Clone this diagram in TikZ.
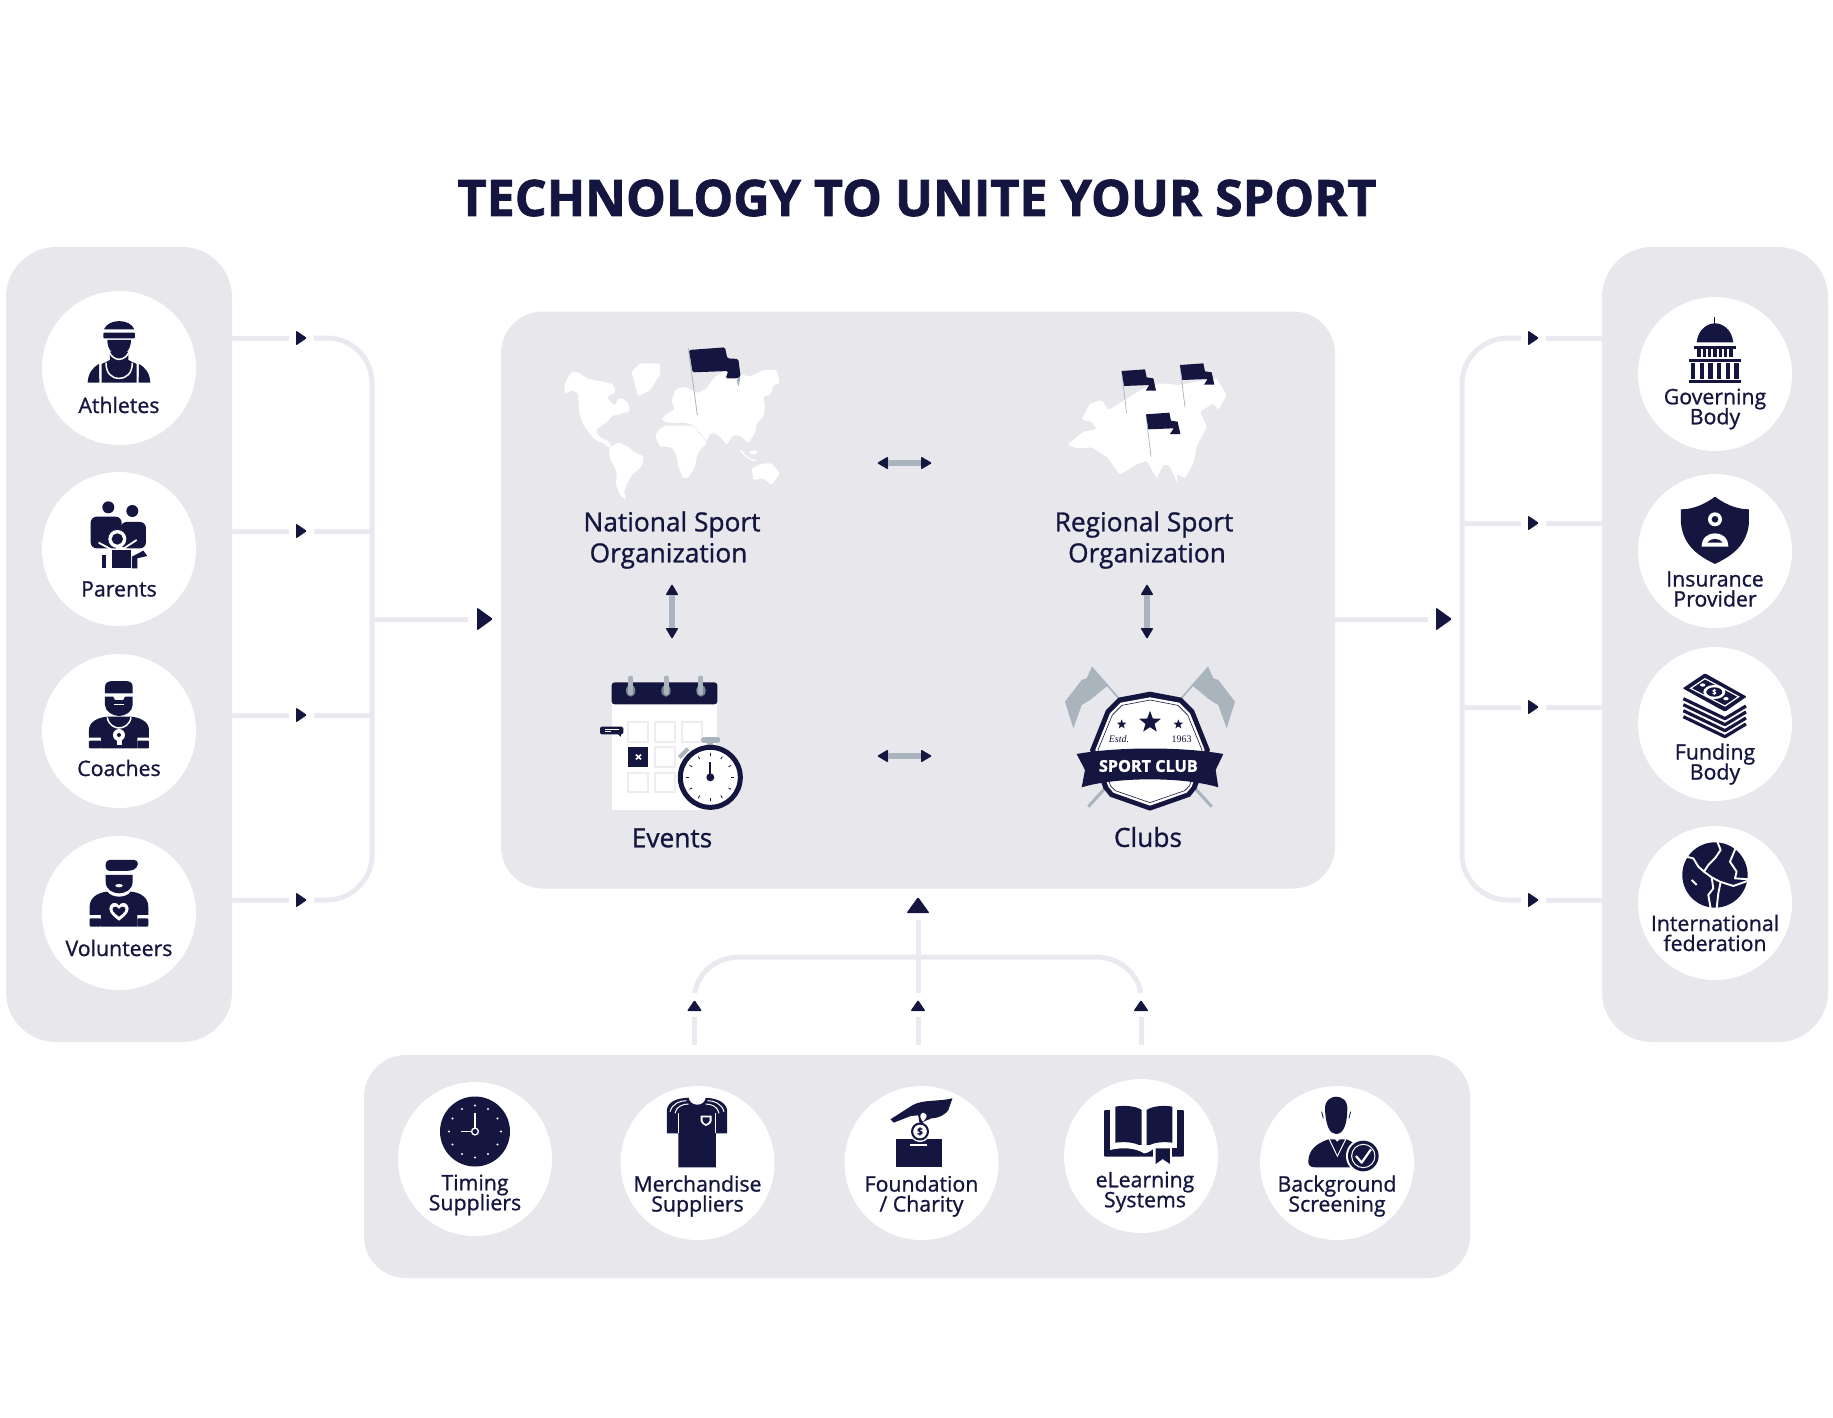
\documentclass[tikz,border=0pt]{standalone}
\usepackage{fontspec}
\setmainfont{Open Sans}[BoldFeatures={FakeBold=1.6}]
\newfontfamily\medfont{Open Sans}[FakeBold=1.0]
\newfontfamily\estdfont{Liberation Serif}[Ligatures=TeX]
\usetikzlibrary{shapes.geometric}
\definecolor{sportnavy}{HTML}{14163F}
\definecolor{panelgray}{HTML}{E7E7EC}
\definecolor{linkgray}{HTML}{E9E9EF}
\definecolor{shaftgray}{HTML}{A9B4BC}
\definecolor{cellgray}{HTML}{EDEDF1}
\newcommand{\tightlines}{\lineskiplimit=-100pt\relax}
\tikzset{
  panel/.style={rectangle, fill=panelgray, inner sep=0pt},
  disc/.style={circle, fill=white, minimum size=154pt, inner sep=0pt},
  lab/.style={text=sportnavy, align=center, inner sep=0pt, font={\medfont\fontsize{21.3}{20}\selectfont\tightlines}},
  biglab/.style={text=sportnavy, align=center, inner sep=0pt, font={\medfont\fontsize{26.3}{31}\selectfont\tightlines}},
  link/.style={draw=linkgray, line width=5pt},
  shaft/.style={draw=shaftgray, line width=6pt},
  tip/.style={isosceles triangle, isosceles triangle stretches, fill=sportnavy, inner sep=0pt, outer sep=0pt, rounded corners=1pt, anchor=lower side},
  tipsmall/.style={tip, minimum width=15pt, minimum height=11pt},
  tipbig/.style={tip, minimum width=23pt, minimum height=16pt},
  tipinner/.style={tip, minimum width=13pt, minimum height=11pt},
  zoomed/.style={scale=0.3333},
  zoomedb/.style={xscale=0.408, yscale=0.3333},
}
\begin{document}
\begin{tikzpicture}[x=1pt, y=-1pt]
  \useasboundingbox (0,0) rectangle (1833,1417);

  % Panels
  \node[panel, rounded corners=50pt, minimum width=226pt, minimum height=795pt] (leftpanel) at (119,644.5) {};
  \node[panel, rounded corners=50pt, minimum width=226pt, minimum height=795pt] (rightpanel) at (1715,644.5) {};
  \node[panel, rounded corners=42pt, minimum width=834pt, minimum height=577pt] (centerpanel) at (918,600) {};
  \node[panel, rounded corners=42pt, minimum width=1106pt, minimum height=223pt] (bottompanel) at (917,1166.5) {};

  \node[text=sportnavy, font=\fontsize{50.2}{50}\selectfont\bfseries, inner sep=0pt] (title) at (917,198) {TECHNOLOGY TO UNITE YOUR SPORT};

  % Discs
  \node[disc] (athletes) at (119,368) {};
  \node[disc] (parents) at (119,549) {};
  \node[disc] (coaches) at (119,731) {};
  \node[disc] (volunteers) at (119,913) {};
  \node[disc] (governing) at (1715,374) {};
  \node[disc] (insurance) at (1715,551) {};
  \node[disc] (funding) at (1715,724) {};
  \node[disc] (international) at (1715,903) {};
  \node[disc] (timing) at (475,1159) {};
  \node[disc] (merchandise) at (697.5,1163) {};
  \node[disc] (foundation) at (921.5,1163) {};
  \node[disc] (elearning) at (1141,1156) {};
  \node[disc] (background) at (1337,1163) {};

  % Labels
  \node[lab] (athleteslab) at (119,405) {Athletes};
  \node[lab] (parentslab) at (119,589) {Parents};
  \node[lab] (coacheslab) at (119,768) {Coaches};
  \node[lab] (volunteerslab) at (119,948) {Volunteers};
  \node[lab] (governinglab) at (1715,409) {Governing\\Body};
  \node[lab] (insurancelab) at (1715,589) {Insurance\\Provider};
  \node[lab] (fundinglab) at (1715,764) {Funding\\Body};
  \node[lab] (internationallab) at (1715,933) {International\\federation};
  \node[lab] (timinglab) at (475,1195) {Timing\\Suppliers};
  \node[lab] (merchandiselab) at (697.5,1196) {Merchandise\\Suppliers};
  \node[lab] (foundationlab) at (921.5,1196) {Foundation\\/ Charity};
  \node[lab] (elearninglab) at (1145,1192) {eLearning\\Systems};
  \node[lab] (backgroundlab) at (1337,1196) {Background\\Screening};
  \node[biglab] (nationallab) at (672,540) {National Sport\\\hspace*{-7pt}Organization};
  \node[biglab] (regionallab) at (1144,540) {Regional Sport\\\hspace*{6pt}Organization};
  \node[biglab] (eventslab) at (672,838) {Events};
  \node[biglab] (clubslab) at (1148,837) {Clubs};

  % Arrow tips
  \node[tipsmall] (tipa) at (296,338) {};
  \node[tipsmall] (tipb) at (296,531) {};
  \node[tipsmall] (tipc) at (296,715) {};
  \node[tipsmall] (tipd) at (296,900) {};
  \node[tipbig] (tipwest) at (477,619) {};
  \node[tipsmall] (tipe) at (1528,338) {};
  \node[tipsmall] (tipf) at (1528,523) {};
  \node[tipsmall] (tipg) at (1528,707) {};
  \node[tipsmall] (tiph) at (1528,900) {};
  \node[tipbig] (tipeast) at (1436,619) {};
  \node[tipsmall, rotate=90] (tipi) at (694.5,1011) {};
  \node[tipsmall, rotate=90] (tipj) at (918,1011) {};
  \node[tipsmall, rotate=90] (tipk) at (1141,1011) {};
  \node[tipbig, rotate=90] (tipnorth) at (918,913) {};
  \coordinate (trunkw) at (372,619);
  \coordinate (trunke) at (1462,619);
  \coordinate (barleft) at (740,957);
  \coordinate (barright) at (1095,957);

  % Connectors
  \draw[link] (leftpanel.east |- tipa.lower side) -- ([xshift=-7pt]tipa.lower side);
  \draw[link] (leftpanel.east |- tipb.lower side) -- ([xshift=-7pt]tipb.lower side);
  \draw[link] (leftpanel.east |- tipc.lower side) -- ([xshift=-7pt]tipc.lower side);
  \draw[link] (leftpanel.east |- tipd.lower side) -- ([xshift=-7pt]tipd.lower side);
  \draw[link, rounded corners=45pt] ([xshift=7pt]tipa.apex) -| (trunkw) |- ([xshift=7pt]tipd.apex);
  \draw[link] ([xshift=7pt]tipb.apex) -- (tipb.apex -| trunkw);
  \draw[link] ([xshift=7pt]tipc.apex) -- (tipc.apex -| trunkw);
  \draw[link] (trunkw) -- ([xshift=-9pt]tipwest.lower side);
  \draw[link] (rightpanel.west |- tipe.apex) -- ([xshift=7pt]tipe.apex);
  \draw[link] (rightpanel.west |- tipf.apex) -- ([xshift=7pt]tipf.apex);
  \draw[link] (rightpanel.west |- tipg.apex) -- ([xshift=7pt]tipg.apex);
  \draw[link] (rightpanel.west |- tiph.apex) -- ([xshift=7pt]tiph.apex);
  \draw[link, rounded corners=46pt] ([xshift=-7pt]tipe.lower side) -| (trunke) |- ([xshift=-7pt]tiph.lower side);
  \draw[link] ([xshift=-7pt]tipf.lower side) -- (tipf.lower side -| trunke);
  \draw[link] ([xshift=-7pt]tipg.lower side) -- (tipg.lower side -| trunke);
  \draw[link] (centerpanel.east |- tipeast.lower side) -- ([xshift=-8pt]tipeast.lower side);
  \draw[link] ([yshift=10pt]bottompanel.north -| tipi.lower side) -- ([yshift=-6pt]tipi.lower side);
  \draw[link] ([yshift=10pt]bottompanel.north -| tipj.lower side) -- ([yshift=-6pt]tipj.lower side);
  \draw[link] ([yshift=10pt]bottompanel.north -| tipk.lower side) -- ([yshift=-6pt]tipk.lower side);
  \draw[link] ([yshift=7pt]tipj.apex) -- ([yshift=-7pt]tipnorth.lower side);
  \draw[link] ([yshift=7pt]tipi.apex) .. controls +(4,-20) and +(-25,0) .. (barleft) -- (barright) .. controls +(25,0) and +(-4,-20) .. ([yshift=7pt]tipk.apex);

  \node[tipinner, rotate=180] (tipm) at (888,463) {};
  \node[tipinner] (tipn) at (921,463) {};
  \node[tipinner, rotate=180] (tipo) at (888,756) {};
  \node[tipinner] (tipp) at (921,756) {};
  \node[tipinner, rotate=90] (tipq) at (672,595) {};
  \node[tipinner, rotate=-90] (tipr) at (672,628) {};
  \node[tipinner, rotate=90] (tips) at (1147,595) {};
  \node[tipinner, rotate=-90] (tipt) at (1147,628) {};
  \draw[shaft] (tipm.lower side) -- (tipn.lower side);
  \draw[shaft] (tipo.lower side) -- (tipp.lower side);
  \draw[shaft] (tipq.lower side) -- (tipr.lower side);
  \draw[shaft] (tips.lower side) -- (tipt.lower side);

  % Athlete
  \begin{scope}[shift={(0,240)}, zoomed, sportnavy]
    \fill (312,268) .. controls (325,235) and (390,235) .. (403,268) -- cycle;
    \fill[rounded corners=1pt] (310,278) rectangle (405,295);
    \fill (305,372) -- (330,360) -- (330,335) -- (385,335) -- (385,360) -- (410,372) -- (410,428) -- (305,428) -- cycle;
    \draw[white, line width=1.5pt] (322,320) .. controls (330,350) and (345,358) .. (357,358) .. controls (370,358) and (385,350) .. (393,320);
    \fill (322,300) -- (393,300) .. controls (393,330) and (375,345) .. (357,345) .. controls (340,345) and (322,330) .. (322,300) -- cycle;
    \draw[white, line width=1.5pt] (318,368) .. controls (318,400) and (335,415) .. (357,415) .. controls (380,415) and (397,400) .. (397,368);
    \fill (263,428) .. controls (265,400) and (275,385) .. (297,372) -- (298,428) -- cycle;
    \fill (451,428) .. controls (449,400) and (439,385) .. (417,372) -- (416,428) -- cycle;
  \end{scope}

  % Parents
  \begin{scope}[shift={(0,240)}, zoomed, sportnavy]
    \fill (325,802) circle (18);
    \fill (397,813) circle (18);
    \fill[rounded corners=6pt] (272,925) -- (272,830) -- (365,830) -- (365,925) -- cycle;
    \fill[rounded corners=6pt] (362,925) -- (362,846) -- (438,846) -- (438,925) -- cycle;
    \fill[white] (352,897) circle (27);
    \fill (352,897) circle (17);
    \draw[white, line width=1.8pt] (296,908) -- (352,938) -- (410,900);
    \fill (335,930) rectangle (392,985);
    \fill[white] (300,928) rectangle (335,945);
    \fill (307,945) rectangle (318,985);
    \fill (396,985) -- (396,950) -- (430,932) -- (442,948) -- (412,955) -- (412,985) -- cycle;
  \end{scope}

  % Coach
  \begin{scope}[shift={(0,640)}, zoomed, sportnavy]
    \fill (315,160) -- (315,140) .. controls (315,128) and (325,123) .. (340,123) -- (375,123) .. controls (390,123) and (398,128) .. (398,140) -- (398,160) -- cycle;
    \fill (315,170) -- (340,170) -- (345,180) -- (370,180) -- (375,170) -- (398,170) -- (398,195) .. controls (398,215) and (375,228) .. (357,228) .. controls (340,228) and (315,215) .. (315,195) -- cycle;
    \draw[white, line width=1pt] (342,192) -- (372,192);
    \fill (267,293) -- (267,270) .. controls (267,245) and (295,232) .. (322,230) -- (392,230) .. controls (420,232) and (447,245) .. (447,270) -- (447,293) -- (412,293) -- (412,325) -- (303,325) -- (303,293) -- cycle;
    \fill[rounded corners=1pt] (267,302) rectangle (303,325);
    \fill[rounded corners=1pt] (412,302) rectangle (447,325);
    \draw[white, line width=1.5pt] (322,232) .. controls (325,255) and (345,264) .. (357,264) .. controls (370,264) and (390,255) .. (393,232);
    \fill[white] (357,285) circle (18);
    \fill[white] (350,285) rectangle (365,315);
    \fill (357,285) circle (6);
  \end{scope}

  % Volunteer
  \begin{scope}[shift={(0,640)}, zoomed, sportnavy]
    \fill[rounded corners=4pt] (317,693) -- (317,660) -- (415,660) -- (412,685) -- (390,693) -- cycle;
    \fill (317,705) -- (398,705) -- (398,725) .. controls (398,750) and (375,760) .. (357,760) .. controls (340,760) and (317,750) .. (317,725) -- cycle;
    \fill[white] (357,737) ellipse (11 and 5);
    \fill (269,825) -- (269,800) .. controls (269,772) and (295,757) .. (322,755) .. controls (335,775) and (380,775) .. (392,755) .. controls (420,757) and (445,772) .. (445,800) -- (445,825) -- (412,825) -- (412,860) -- (303,860) -- (303,825) -- cycle;
    \fill[rounded corners=1pt] (269,835) rectangle (303,860);
    \fill[rounded corners=1pt] (412,835) rectangle (445,860);
    \fill[white] (357,842) .. controls (330,822) and (322,808) .. (332,795) .. controls (340,785) and (352,788) .. (357,797) .. controls (362,788) and (374,785) .. (382,795) .. controls (392,808) and (384,822) .. (357,842) -- cycle;
    \fill (357,830) .. controls (340,817) and (334,810) .. (340,802) .. controls (345,797) and (353,800) .. (357,807) .. controls (361,800) and (369,797) .. (374,802) .. controls (380,810) and (374,817) .. (357,830) -- cycle;
  \end{scope}

  % Capitol
  \begin{scope}[shift={(1400,240)}, zoomed, sportnavy]
    \draw[line width=1pt] (945,232) -- (945,252);
    \fill (890,307) .. controls (895,265) and (925,250) .. (945,250) .. controls (965,250) and (995,265) .. (1000,307) -- cycle;
    \fill (882,318) rectangle (1008,326);
    \foreach \cx in {892,908,924,940,956,972,988}
      \fill (\cx,328) rectangle +(10,22);
    \fill (867,356) rectangle (1022,366);
    \foreach \cx in {873,899,925,951,977,1003}
      \fill (\cx,368) rectangle +(13,50);
    \fill (867,420) rectangle (1022,430);
  \end{scope}

  % Shield
  \begin{scope}[shift={(1400,240)}, zoomed, sportnavy]
    \fill (945,770) .. controls (905,800) and (870,808) .. (843,808) -- (843,850) .. controls (850,920) and (900,950) .. (945,972) .. controls (990,950) and (1040,920) .. (1047,850) -- (1047,808) .. controls (1020,808) and (985,800) .. (945,770) -- cycle;
    \fill[white] (945,838) circle (21);
    \fill (945,838) circle (10);
    \fill[white] (905,920) .. controls (905,892) and (925,880) .. (945,880) .. controls (965,880) and (985,892) .. (985,920) -- cycle;
    \fill (922,908) .. controls (930,893) and (960,893) .. (968,908) -- cycle;
  \end{scope}

  % Banknotes
  \begin{scope}[shift={(1400,640)}, zoomed, sportnavy]
    \foreach \dy in {0,18,36,54}
      \draw[line width=3.2pt, line join=round] (850,176+\dy) -- (975,236+\dy) -- (1038,198+\dy);
    \fill[rounded corners=1pt] (848,145) -- (915,100) -- (1040,170) -- (975,215) -- cycle;
    \draw[white, line width=1.2pt] (872,145) -- (915,116) -- (1016,170) -- (975,198) -- cycle;
    \fill[white] (943,156) ellipse (33 and 21);
    \fill (943,156) ellipse (24 and 14);
    \node[text=white, inner sep=0pt, font=\fontsize{7}{7}\selectfont\bfseries] (notesign) at (943,156) {\$};
    \fill[white] (908,135) ellipse (8 and 5);
    \fill[white] (978,176) ellipse (8 and 5);
  \end{scope}

  % Globe
  \begin{scope}[shift={(1400,640)}, zoomed, sportnavy]
    \fill (945,705) circle (98);
    \draw[white, line width=1.9pt, line join=round] (952,605) -- (962,630) -- (945,655) -- (925,675) -- (912,695) -- (895,680) -- (880,655) -- (858,650);
    \draw[white, line width=1.9pt, line join=round] (912,695) -- (935,712) -- (960,725) -- (1000,738) -- (1045,722);
    \draw[white, line width=1.9pt, line join=round] (1008,622) -- (990,665) -- (1010,695) -- (1005,715) -- (1045,718);
    \draw[white, line width=1.9pt, line join=round] (935,712) -- (940,745) -- (925,765) -- (932,805);
    \draw[white, line width=1.9pt, line join=round] (962,725) -- (955,760) -- (950,805);
    \draw[white, line width=1.9pt, line join=round] (875,720) -- (890,735);
  \end{scope}

  % Clock
  \fill[sportnavy] (475,1131.5) circle (35);
  \foreach \a in {0,30,...,330}
    \fill[white] ([shift={(475,1131.5)}]\a:26) circle (1.1);
  \draw[white, line width=1.5pt] (475,1113) -- (475,1128);
  \draw[white, line width=1.5pt] (461,1131.5) -- (471,1131.5);
  \draw[white, line width=1.3pt] (475,1131.5) circle (3.4);

  % Shirt
  \begin{scope}[shift={(360,1050)}, zoomedb, sportnavy]
    \fill (752,250) -- (752,180) .. controls (755,155) and (775,145) .. (805,143) -- (845,143) .. controls (875,145) and (895,155) .. (900,180) -- (900,250) -- (872,250) -- (872,352) -- (780,352) -- (780,250) -- cycle;
    \draw[white, line width=1pt] (780,190) -- (780,250);
    \draw[white, line width=1pt] (872,190) -- (872,250);
    \draw[white, line width=1pt] (760,185) .. controls (765,160) and (785,152) .. (800,152);
    \draw[white, line width=1pt] (772,190) .. controls (775,170) and (790,162) .. (805,162);
    \draw[white, line width=1pt] (892,185) .. controls (887,160) and (867,152) .. (852,152);
    \draw[white, line width=1pt] (880,190) .. controls (877,170) and (862,162) .. (847,162);
    \fill[white] (805,140) .. controls (808,172) and (845,172) .. (848,140) -- cycle;
    \fill[white] (835,197) -- (862,197) -- (862,212) .. controls (860,222) and (852,226) .. (848,228) .. controls (844,226) and (837,222) .. (835,212) -- cycle;
    \fill (840,202) -- (857,202) -- (857,212) .. controls (855,218) and (851,220) .. (848,222) .. controls (845,220) and (841,218) .. (840,212) -- cycle;
  \end{scope}

  % Hand and donation box
  \fill[sportnavy] (896,1139) rectangle (941.5,1167);
  \draw[white, line width=2pt] (910,1145) -- (927,1145);
  \fill[white] (920,1131.5) circle (10.5);
  \fill[sportnavy] (920,1131.5) circle (9);
  \fill[white] (920,1131.5) circle (6.8);
  \node[text=sportnavy, inner sep=0pt, font=\fontsize{10}{10}\selectfont\bfseries] (coinsign) at (920,1131.5) {\$};
  \begin{scope}[shift={(360,1050)}, zoomedb, sportnavy]
    \fill (1452,145) .. controls (1420,155) and (1380,148) .. (1355,165) -- (1300,208) -- (1308,218) -- (1350,198) -- (1368,196) -- (1372,222) -- (1376,222) .. controls (1382,210) and (1395,210) .. (1400,205) .. controls (1420,205) and (1438,190) .. (1442,180) -- cycle;
    \fill[white] (1380,188) .. controls (1370,192) and (1372,205) .. (1380,215) .. controls (1388,205) and (1395,192) .. (1380,188) -- cycle;
  \end{scope}

  % Book
  \begin{scope}[shift={(1000,1050)}, zoomed, sportnavy]
    \fill[rounded corners=1pt] (312,180) rectangle (552,320);
    \fill[white] (330,165) rectangle (530,295);
    \fill (346,170) .. controls (370,165) and (410,168) .. (425,180) -- (425,290) .. controls (405,275) and (370,275) .. (346,278) -- cycle;
    \fill (440,180) .. controls (455,168) and (495,165) .. (517,170) -- (517,278) .. controls (495,275) and (462,275) .. (440,290) -- cycle;
    \fill[white] (330,300) .. controls (370,290) and (410,295) .. (432,310) .. controls (440,310) and (450,305) .. (462,295) -- (462,285) -- (330,285) -- cycle;
    \fill[white] (460,290) rectangle (516,322);
    \fill (467,295) -- (510,295) -- (510,342) -- (488,327) -- (467,342) -- cycle;
  \end{scope}

  % Person with check
  \begin{scope}[shift={(1000,1050)}, zoomed, sportnavy]
    \fill (975,180) .. controls (973,150) and (995,140) .. (1008,140) .. controls (1025,140) and (1044,150) .. (1042,180) .. controls (1041,225) and (1030,252) .. (1008,252) .. controls (988,252) and (978,225) .. (975,180) -- cycle;
    \draw[line width=0.8pt] (965,185) -- (970,205);
    \draw[line width=0.8pt] (1052,185) -- (1047,205);
    \fill (925,335) .. controls (925,300) and (950,280) .. (985,268) -- (1040,268) .. controls (1060,275) and (1075,290) .. (1085,310) -- (1060,352) -- (945,352) .. controls (930,352) and (925,345) .. (925,335) -- cycle;
    \draw[white, line width=1pt] (985,262) -- (1012,318) -- (1040,262);
    \fill[white] (1000,262) -- (1024,262) -- (1012,275) -- cycle;
    \fill (1012,280) -- (1020,292) -- (1012,315) -- (1004,292) -- cycle;
    \fill[white] (1090,318) circle (52);
    \fill (1090,318) circle (46);
    \draw[white, line width=1pt] (1090,318) circle (35);
    \draw[white, line width=2.2pt, line join=round] (1068,318) -- (1085,338) -- (1113,298);
  \end{scope}

  % World map
  \begin{scope}[shift={(550,335)}, zoomed, white, rounded corners=1.5pt]
    \fill (42,155) -- (50,135) -- (65,110) -- (85,112) -- (110,130) -- (130,135) -- (160,140) -- (190,148) -- (197,170) -- (185,180) -- (172,183) -- (178,198) -- (195,212) -- (205,190) -- (220,190) -- (235,205) -- (240,230) -- (215,235) -- (205,240) -- (190,240) -- (170,262) -- (140,282) -- (140,295) -- (155,310) -- (175,318) -- (185,330) -- (178,340) -- (160,325) -- (135,315) -- (115,290) -- (100,270) -- (88,235) -- (85,190) -- (85,175) -- (65,165) -- (45,178) -- cycle;
    \fill (245,110) -- (270,85) -- (330,85) -- (330,120) -- (300,165) -- (265,185) -- (255,150) -- cycle;
    \fill (178,338) -- (205,322) -- (235,335) -- (250,350) -- (282,365) -- (275,395) -- (245,420) -- (232,445) -- (222,470) -- (228,495) -- (210,480) -- (198,450) -- (200,410) -- (178,365) -- cycle;
    \fill (315,305) -- (325,285) -- (345,272) -- (385,272) -- (430,272) -- (440,285) -- (460,310) -- (472,322) -- (450,345) -- (440,365) -- (435,395) -- (415,428) -- (400,430) -- (385,395) -- (380,365) -- (370,340) -- (350,335) -- (330,335) -- cycle;
    \fill (335,255) -- (345,240) -- (375,222) -- (365,200) -- (375,165) -- (400,155) -- (428,165) -- (440,175) -- (470,160) -- (490,130) -- (525,105) -- (600,125) -- (640,105) -- (680,105) -- (690,145) -- (670,150) -- (662,178) -- (640,185) -- (645,220) -- (640,245) -- (620,265) -- (615,295) -- (595,325) -- (575,305) -- (550,300) -- (530,330) -- (510,305) -- (495,295) -- (480,295) -- (470,320) -- (450,292) -- (430,270) -- (400,262) -- (380,265) -- (350,262) -- cycle;
    \fill (605,400) -- (640,385) -- (665,385) -- (690,415) -- (665,450) -- (640,430) -- (610,435) -- cycle;
    \draw[line width=1.5pt] (572,345) .. controls (585,365) and (595,372) .. (618,378);
    \fill (610,352) ellipse (12 and 6);
    \draw[shaftgray, line width=0.8pt] (415,40) -- (442,240);
    \fill[shaftgray] (560,130) -- (572,125) -- (565,158) -- cycle;
    \fill[sportnavy] (417,45) -- (525,37) -- (532,70) -- (565,72) -- (572,125) -- (560,130) -- (527,130) -- (535,108) -- (428,112) -- cycle;
  \end{scope}

  % Regional map
  \begin{scope}[shift={(1050,350)}, zoomed, white]
    \fill[rounded corners=1.5pt] (52,285) -- (75,265) -- (100,245) -- (140,238) -- (125,215) -- (95,210) -- (120,160) -- (155,150) -- (175,180) -- (225,150) -- (280,115) -- (330,100) -- (390,105) -- (440,95) -- (500,85) -- (530,135) -- (505,180) -- (490,160) -- (450,185) -- (470,230) -- (440,290) -- (430,340) -- (405,385) -- (380,372) -- (385,405) -- (358,345) -- (340,345) -- (320,385) -- (290,332) -- (255,345) -- (210,375) -- (172,322) -- (125,292) -- (80,295) -- cycle;
    \foreach \fx/\fy in {0/0,175/-18,73/130} {
      \begin{scope}[shift={(\fx,\fy)}]
        \draw[shaftgray, line width=0.7pt] (215,65) -- (230,190);
        \fill[sportnavy] (215,63) -- (285,58) -- (290,82) -- (310,85) -- (318,122) -- (287,122) -- (298,105) -- (222,108) -- cycle;
      \end{scope}
    }
  \end{scope}

  % Calendar and stopwatch
  \begin{scope}[shift={(590,670)}, zoomed, sportnavy]
    \fill[white] (66,100) rectangle (382,420);
    \fill[rounded corners=3pt] (65,103) -- (65,37) -- (382,37) -- (382,103) -- cycle;
    \foreach \cx in {122,228,333} {
      \fill[shaftgray!70!sportnavy] (\cx,62) ellipse (14 and 18);
      \draw[shaftgray, line width=5pt, line cap=round] (\cx,24) -- (\cx,68);
    }
    \foreach \cx/\cy in {115/157,195/157,277/157,195/232,115/308,195/308}
      \draw[cellgray, line width=1.7pt] (\cx,\cy) rectangle +(60,58);
    \fill (115,232) rectangle +(60,58);
    \draw[white, line width=1.6pt] (138,254) -- (153,268);
    \draw[white, line width=1.6pt] (153,254) -- (138,268);
    \fill[rounded corners=1.5pt] (30,170) rectangle (100,193);
    \fill (82,190) -- (94,190) -- (92,200) -- cycle;
    \draw[white, line width=0.8pt] (44,179) -- (88,179);
    \draw[white, line width=0.8pt] (44,185) -- (62,185);
    \draw[shaftgray, line width=4pt] (268,262) -- (294,236);
    \draw[shaftgray, line width=6pt, line cap=round] (342,210) -- (382,210);
    \fill[shaftgray] (352,212) rectangle (370,232);
    \fill[white] (361,322) circle (90);
    \draw[line width=5pt] (361,322) circle (90);
    \draw[line width=1.8pt] (361,322) -- (361,275);
    \fill (361,322) circle (12);
    \foreach \a in {0,30,...,330}
      \draw[line width=0.8pt] ([shift={(361,322)}]\a:63) -- ([shift={(361,322)}]\a:72);
  \end{scope}

  % Club badge
  \begin{scope}[shift={(1050,660)}, zoomed, sportnavy]
    \fill[shaftgray] (125,22) -- (110,55) -- (95,60) -- (45,125) -- (70,205) -- (95,135) -- (120,120) -- (175,75) -- cycle;
    \draw[shaftgray, line width=1.6pt] (125,22) -- (215,125);
    \fill[shaftgray] (475,22) -- (490,55) -- (505,60) -- (555,125) -- (530,205) -- (505,135) -- (480,120) -- (425,75) -- cycle;
    \draw[shaftgray, line width=1.6pt] (475,22) -- (385,125);
    \draw[shaftgray, line width=3pt] (162,388) -- (115,440);
    \draw[shaftgray, line width=3pt] (438,388) -- (485,440);
    \fill (300,95) -- (205,113) -- (168,150) -- (120,270) -- (160,385) -- (180,410) -- (300,452) -- (420,410) -- (440,385) -- (480,270) -- (432,150) -- (395,113) -- cycle;
    \fill[white] (300,112) -- (212,128) -- (180,160) -- (136,270) -- (175,380) -- (190,398) -- (300,437) -- (410,398) -- (425,380) -- (464,270) -- (420,160) -- (388,128) -- cycle;
    \draw[line width=0.6pt] (300,120) -- (216,136) -- (187,165) -- (144,270) -- (182,378) -- (196,392) -- (300,428) -- (404,392) -- (418,378) -- (456,270) -- (413,165) -- (384,136) -- cycle;
    \fill (80,282) .. controls (200,260) and (400,260) .. (520,282) -- (497,330) -- (505,382) .. controls (400,350) and (200,350) .. (95,382) -- (105,330) -- cycle;
    \node[star, star points=5, star point ratio=2.4, fill=sportnavy, inner sep=0pt, minimum size=23pt] (starbig) at (300,187) {};
    \node[star, star points=5, star point ratio=2.4, fill=sportnavy, inner sep=0pt, minimum size=10pt] (starleft) at (215,193) {};
    \node[star, star points=5, star point ratio=2.4, fill=sportnavy, inner sep=0pt, minimum size=10pt] (starright) at (385,193) {};
    \node[text=sportnavy, inner sep=0pt, font=\estdfont\itshape\fontsize{10}{10}\selectfont] (estd) at (207,238) {Estd.};
    \node[text=sportnavy, inner sep=0pt, font=\estdfont\fontsize{10}{10}\selectfont] (year) at (395,238) {1963};
    \node[text=white, inner sep=0pt, font=\fontsize{16.2}{17}\selectfont\bfseries] (clubname) at (295,318) {SPORT CLUB};
  \end{scope}
\end{tikzpicture}
\end{document}
